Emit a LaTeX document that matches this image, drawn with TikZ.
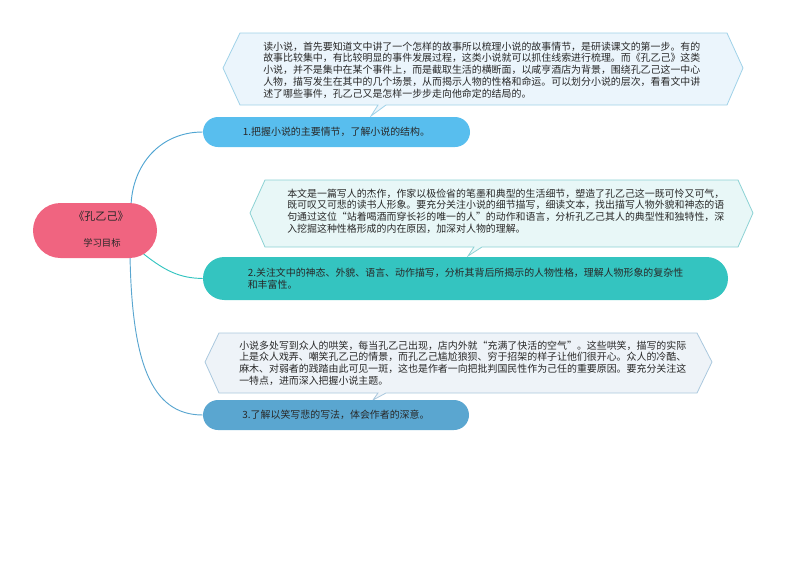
\documentclass[tikz,border=0pt]{standalone}
\usepackage{fontspec}
\setmainfont{Noto Sans CJK SC}
\usetikzlibrary{backgrounds,calc}
\definecolor{rootpink}{RGB}{240,100,128}
\definecolor{bone}{RGB}{88,190,238}
\definecolor{btwo}{RGB}{52,196,192}
\definecolor{bthree}{RGB}{90,166,208}
\definecolor{cfillone}{RGB}{235,245,252}
\definecolor{cdrawone}{RGB}{160,210,232}
\definecolor{cfilltwo}{RGB}{232,247,247}
\definecolor{cdrawtwo}{RGB}{140,210,212}
\definecolor{cfillthree}{RGB}{238,243,248}
\definecolor{cdrawthree}{RGB}{170,200,222}
\definecolor{txt}{RGB}{40,40,40}
\definecolor{lineone}{RGB}{80,165,210}
\tikzset{
  cjk/.style={font=\fontsize{7.45}{8.8}\selectfont, text=txt, inner sep=0pt, align=left},
  branchbox/.style={rounded corners=11.25pt, minimum height=22.5pt, inner sep=0pt, text=txt,
     font=\fontsize{7.45}{8.8}\selectfont, align=left},
  conn/.style={line width=0.7pt},
}
\begin{document}
\begin{tikzpicture}[x=0.75pt,y=-0.75pt]
\useasboundingbox (0,0) rectangle (794,561);

% callout 1
\draw[fill=cfillone, draw=cdrawone, line width=0.6pt]
  (240,33) -- (727,33) -- (743,68) -- (727,105) -- (386,105) -- (371,116) -- (378,105)
  -- (240,105) -- (223,68) -- cycle;
\node[cjk, anchor=west] (c1) at (263,70) {读小说，首先要知道文中讲了一个怎样的故事所以梳理小说的故事情节，是研读课文的第一步。有的\\故事比较集中，有比较明显的事件发展过程，这类小说就可以抓住线索进行梳理。而《孔乙己》这类\\小说，并不是集中在某个事件上，而是截取生活的横断面，以咸亨酒店为背景，围绕孔乙己这一中心\\人物，描写发生在其中的几个场景，从而揭示人物的性格和命运。可以划分小说的层次，看看文中讲\\述了哪些事件，孔乙己又是怎样一步步走向他命定的结局的。};

% callout 2
\draw[fill=cfilltwo, draw=cdrawtwo, line width=0.6pt]
  (265,180) -- (738,180) -- (753,213) -- (738,247) -- (482,247) -- (468,256) -- (474,247)
  -- (265,247) -- (250,213) -- cycle;
\node[cjk, anchor=west] (c2) at (287,211) {本文是一篇写人的杰作，作家以极俭省的笔墨和典型的生活细节，塑造了孔乙己这一既可怜又可气，\\既可叹又可悲的读书人形象。要充分关注小说的细节描写，细读文本，找出描写人物外貌和神态的语\\句通过这位“站着喝酒而穿长衫的唯一的人”的动作和语言，分析孔乙己其人的典型性和独特性，深\\入挖掘这种性格形成的内在原因，加深对人物的理解。};

% callout 3
\draw[fill=cfillthree, draw=cdrawthree, line width=0.6pt]
  (219,333) -- (697,333) -- (712,362) -- (697,393) -- (386,393) -- (373,400) -- (378,393)
  -- (219,393) -- (205,362) -- cycle;
\node[cjk, anchor=west] (c3) at (239,363) {小说多处写到众人的哄笑，每当孔乙己出现，店内外就“充满了快活的空气”。这些哄笑，描写的实际\\上是众人戏弄、嘲笑孔乙己的情景，而孔乙己尴尬狼狈、穷于招架的样子让他们很开心。众人的冷酷、\\麻木、对弱者的践踏由此可见一斑，这也是作者一向把批判国民性作为己任的重要原因。要充分关注这\\一特点，进而深入把握小说主题。};

% root
\node[fill=rootpink, rounded corners=20.6pt, minimum width=93pt, minimum height=41.25pt, inner sep=0pt] (root) at (95,230.5) {};
\node[text=txt, font=\fontsize{8.3}{10}\selectfont, inner sep=0pt] (roottitle) at (101,216) {《孔乙己》};
\node[text=txt, font=\fontsize{7}{8}\selectfont, inner sep=0pt] (rootsub) at (102,243) {学习目标};

% branches
\node[branchbox, fill=bone, minimum width=200.25pt] (b1) at (336.5,132) {1.把握小说的主要情节，了解小说的结构。};
\node[branchbox, fill=btwo, minimum width=393.75pt, minimum height=32.25pt, rounded corners=16pt] (b2) at (465.5,278.5) {2.关注文中的神态、外貌、语言、动作描写，分析其背后所揭示的人物性格，理解人物形象的复杂性\\和丰富性。};
\node[branchbox, fill=bthree, minimum width=199.5pt] (b3) at (336,415) {3.了解以笑写悲的写法，体会作者的深意。};

\begin{pgfonlayer}{background}
\coordinate (r1) at ($(root.center)+(36,-24)$);
\coordinate (r2) at ($(root.center)+(42,18)$);
\coordinate (r3) at ($(root.center)+(35,25)$);
\draw[conn, draw=lineone] (r1) .. controls (132,165) and (160,132) .. (b1.west);
\draw[conn, draw=btwo] (r2) .. controls (165,272) and (180,278) .. (b2.west);
\draw[conn, draw=bthree] (r3) .. controls (132,360) and (150,415) .. (b3.west);
\end{pgfonlayer}
\end{tikzpicture}
\end{document}
